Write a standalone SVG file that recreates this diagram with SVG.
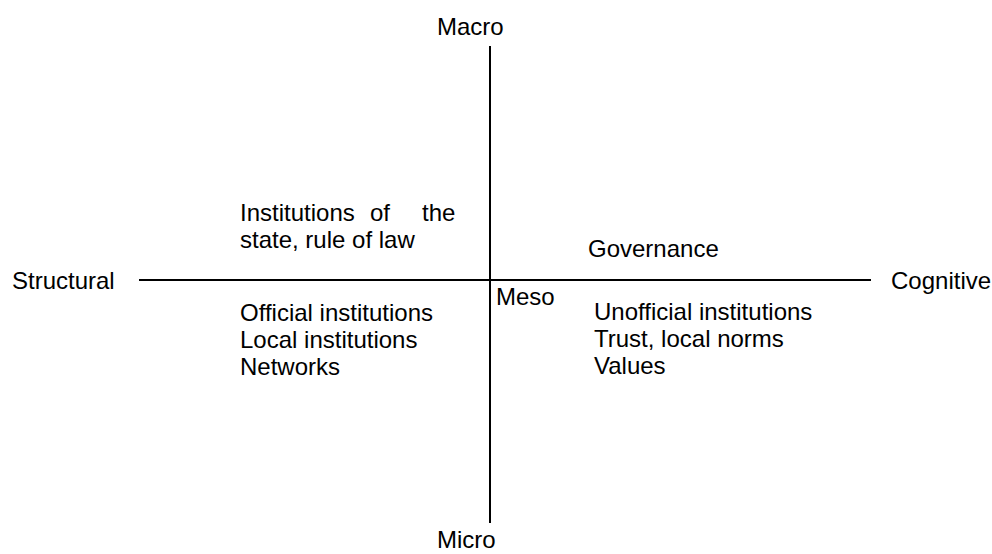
<svg xmlns="http://www.w3.org/2000/svg" width="992" height="554" viewBox="0 0 992 554">
<style>
text{font-family:"Liberation Sans",Arial,sans-serif;font-size:24px;fill:#000}
.ax{stroke:#000;stroke-width:2;fill:none}
</style>
<rect width="992" height="554" fill="#fff"/>
<g id="connectors">
<line class="ax" x1="490" y1="46" x2="490" y2="523"/>
<line class="ax" x1="139" y1="280" x2="871" y2="280"/>
</g>
<g id="macro"><text x="437" y="35">Macro</text></g>
<g id="micro"><text x="437" y="548">Micro</text></g>
<g id="structural"><text x="12" y="289">Structural</text></g>
<g id="cognitive"><text x="891" y="289">Cognitive</text></g>
<g id="meso"><text x="496" y="305">Meso</text></g>
<g id="governance"><text x="588" y="257">Governance</text></g>
<g id="state"><text y="221"><tspan x="240">Institutions</tspan><tspan x="370">of</tspan><tspan x="422">the</tspan></text><text x="240" y="248">state, rule of law</text></g>
<g id="structural-micro"><text x="240" y="321">Official institutions</text><text x="240" y="348">Local institutions</text><text x="240" y="375">Networks</text></g>
<g id="cognitive-micro"><text x="594" y="320">Unofficial institutions</text><text x="594" y="347">Trust, local norms</text><text x="594" y="374">Values</text></g>
</svg>
